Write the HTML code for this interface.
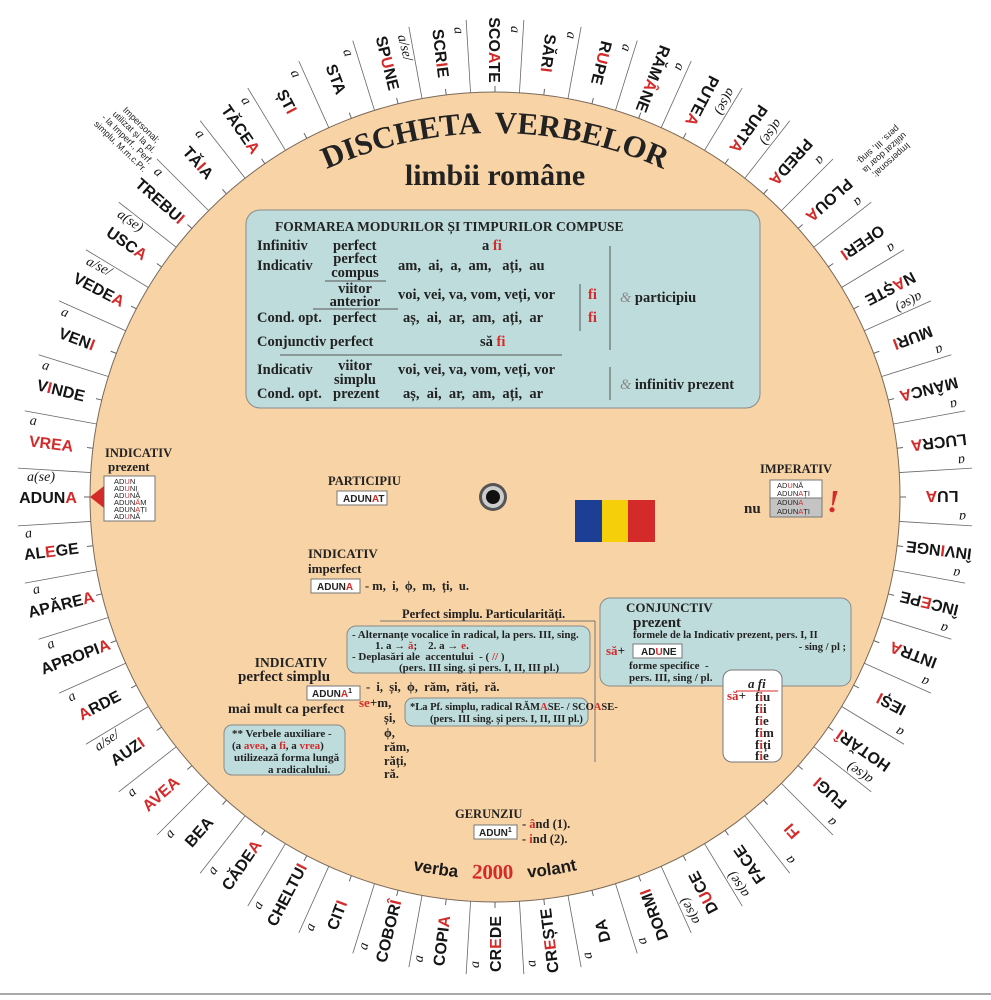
<!DOCTYPE html>
<html><head><meta charset="utf-8"><style>
html,body{margin:0;padding:0;background:#fff;width:991px;height:1000px;overflow:hidden}
svg{display:block}
svg text{white-space:pre}
.v{font-family:"Liberation Sans",sans-serif;font-weight:bold;font-size:16px;fill:#151515;text-anchor:middle}
.a{font-family:"Liberation Serif",serif;font-style:italic;font-size:14px;fill:#151515}
.r{fill:#d42a2a}
.s{font-family:"Liberation Serif",serif;font-weight:bold;fill:#222}
.ss{font-family:"Liberation Sans",sans-serif;fill:#222}
.n{font-family:"Liberation Sans",sans-serif;font-size:9px;fill:#222;text-anchor:middle}
</style></head><body>
<svg width="991" height="1000" viewBox="0 0 991 1000" xmlns="http://www.w3.org/2000/svg">
<line x1="0" y1="994" x2="991" y2="994" stroke="#aaa" stroke-width="2"/>
<circle cx="495" cy="497" r="405" fill="#f8d3a6" stroke="#7a6a5a" stroke-width="1"/>
<g stroke="#666" stroke-width="0.8">
<line x1="17" y1="497" x2="90" y2="497" transform="rotate(93.46 495 497)"/>
<line x1="17" y1="497" x2="90" y2="497" transform="rotate(100.38 495 497)"/>
<line x1="17" y1="497" x2="90" y2="497" transform="rotate(107.31 495 497)"/>
<line x1="17" y1="497" x2="90" y2="497" transform="rotate(114.23 495 497)"/>
<line x1="17" y1="497" x2="90" y2="497" transform="rotate(121.15 495 497)"/>
<line x1="17" y1="497" x2="90" y2="497" transform="rotate(128.08 495 497)"/>
<line x1="17" y1="497" x2="90" y2="497" transform="rotate(135 495 497)"/>
<line x1="17" y1="497" x2="90" y2="497" transform="rotate(141.92 495 497)"/>
<line x1="17" y1="497" x2="90" y2="497" transform="rotate(148.85 495 497)"/>
<line x1="17" y1="497" x2="90" y2="497" transform="rotate(155.77 495 497)"/>
<line x1="17" y1="497" x2="90" y2="497" transform="rotate(162.69 495 497)"/>
<line x1="17" y1="497" x2="90" y2="497" transform="rotate(169.62 495 497)"/>
<line x1="17" y1="497" x2="90" y2="497" transform="rotate(176.54 495 497)"/>
<line x1="17" y1="497" x2="90" y2="497" transform="rotate(183.46 495 497)"/>
<line x1="17" y1="497" x2="90" y2="497" transform="rotate(190.38 495 497)"/>
<line x1="17" y1="497" x2="90" y2="497" transform="rotate(197.31 495 497)"/>
<line x1="17" y1="497" x2="90" y2="497" transform="rotate(204.23 495 497)"/>
<line x1="17" y1="497" x2="90" y2="497" transform="rotate(211.15 495 497)"/>
<line x1="17" y1="497" x2="90" y2="497" transform="rotate(218.08 495 497)"/>
<line x1="17" y1="497" x2="90" y2="497" transform="rotate(225 495 497)"/>
<line x1="17" y1="497" x2="90" y2="497" transform="rotate(231.92 495 497)"/>
<line x1="17" y1="497" x2="90" y2="497" transform="rotate(238.85 495 497)"/>
<line x1="17" y1="497" x2="90" y2="497" transform="rotate(245.77 495 497)"/>
<line x1="17" y1="497" x2="90" y2="497" transform="rotate(252.69 495 497)"/>
<line x1="17" y1="497" x2="90" y2="497" transform="rotate(259.62 495 497)"/>
<line x1="17" y1="497" x2="90" y2="497" transform="rotate(266.54 495 497)"/>
<line x1="17" y1="497" x2="90" y2="497" transform="rotate(273.46 495 497)"/>
<line x1="17" y1="497" x2="90" y2="497" transform="rotate(280.38 495 497)"/>
<line x1="17" y1="497" x2="90" y2="497" transform="rotate(287.31 495 497)"/>
<line x1="17" y1="497" x2="90" y2="497" transform="rotate(294.23 495 497)"/>
<line x1="17" y1="497" x2="90" y2="497" transform="rotate(301.15 495 497)"/>
<line x1="17" y1="497" x2="90" y2="497" transform="rotate(308.08 495 497)"/>
<line x1="17" y1="497" x2="90" y2="497" transform="rotate(315 495 497)"/>
<line x1="17" y1="497" x2="90" y2="497" transform="rotate(321.92 495 497)"/>
<line x1="17" y1="497" x2="90" y2="497" transform="rotate(328.85 495 497)"/>
<line x1="17" y1="497" x2="90" y2="497" transform="rotate(335.77 495 497)"/>
<line x1="17" y1="497" x2="90" y2="497" transform="rotate(342.69 495 497)"/>
<line x1="17" y1="497" x2="90" y2="497" transform="rotate(349.62 495 497)"/>
<line x1="17" y1="497" x2="90" y2="497" transform="rotate(356.54 495 497)"/>
<line x1="17" y1="497" x2="90" y2="497" transform="rotate(3.46 495 497)"/>
<line x1="17" y1="497" x2="90" y2="497" transform="rotate(10.38 495 497)"/>
<line x1="17" y1="497" x2="90" y2="497" transform="rotate(17.31 495 497)"/>
<line x1="17" y1="497" x2="90" y2="497" transform="rotate(24.23 495 497)"/>
<line x1="17" y1="497" x2="90" y2="497" transform="rotate(31.15 495 497)"/>
<line x1="17" y1="497" x2="90" y2="497" transform="rotate(38.08 495 497)"/>
<line x1="17" y1="497" x2="90" y2="497" transform="rotate(45 495 497)"/>
<line x1="17" y1="497" x2="90" y2="497" transform="rotate(51.92 495 497)"/>
<line x1="17" y1="497" x2="90" y2="497" transform="rotate(58.85 495 497)"/>
<line x1="17" y1="497" x2="90" y2="497" transform="rotate(65.77 495 497)"/>
<line x1="17" y1="497" x2="90" y2="497" transform="rotate(72.69 495 497)"/>
<line x1="17" y1="497" x2="90" y2="497" transform="rotate(79.62 495 497)"/>
<line x1="17" y1="497" x2="90" y2="497" transform="rotate(86.54 495 497)"/>
</g>
<g transform="rotate(90 495 497)"><line x1="84" y1="497" x2="90" y2="497" stroke="#666"/><text class="a" x="24" y="481">a</text><text class="v" x="48" y="503">SCO<tspan class="r">A</tspan>TE</text></g>
<g transform="rotate(96.92 495 497)"><line x1="84" y1="497" x2="90" y2="497" stroke="#666"/><text class="a" x="24" y="481">a</text><text class="v" x="48" y="503">SĂR<tspan class="r">I</tspan></text></g>
<g transform="rotate(103.85 495 497)"><line x1="84" y1="497" x2="90" y2="497" stroke="#666"/><text class="a" x="24" y="481">a</text><text class="v" x="48" y="503">R<tspan class="r">U</tspan>PE</text></g>
<g transform="rotate(110.77 495 497)"><line x1="84" y1="497" x2="90" y2="497" stroke="#666"/><text class="a" x="24" y="481">a</text><text class="v" x="48" y="503">RĂM<tspan class="r">Â</tspan>NE</text></g>
<g transform="rotate(117.69 495 497)"><line x1="84" y1="497" x2="90" y2="497" stroke="#666"/><text class="a" x="24" y="481">a(se)</text><text class="v" x="48" y="503">PUTE<tspan class="r">A</tspan></text></g>
<g transform="rotate(124.62 495 497)"><line x1="84" y1="497" x2="90" y2="497" stroke="#666"/><text class="a" x="24" y="481">a(se)</text><text class="v" x="48" y="503">PURT<tspan class="r">A</tspan></text></g>
<g transform="rotate(131.54 495 497)"><line x1="84" y1="497" x2="90" y2="497" stroke="#666"/><text class="a" x="24" y="481">a</text><text class="v" x="48" y="503">PRED<tspan class="r">A</tspan></text></g>
<g transform="rotate(138.46 495 497)"><line x1="84" y1="497" x2="90" y2="497" stroke="#666"/><text class="a" x="24" y="481">a</text><text class="v" x="48" y="503">PLOU<tspan class="r">A</tspan></text></g>
<g transform="rotate(145.38 495 497)"><line x1="84" y1="497" x2="90" y2="497" stroke="#666"/><text class="a" x="24" y="481">a</text><text class="v" x="48" y="503">OFER<tspan class="r">I</tspan></text></g>
<g transform="rotate(152.31 495 497)"><line x1="84" y1="497" x2="90" y2="497" stroke="#666"/><text class="a" x="24" y="481">a(se)</text><text class="v" x="48" y="503">N<tspan class="r">A</tspan>ȘTE</text></g>
<g transform="rotate(159.23 495 497)"><line x1="84" y1="497" x2="90" y2="497" stroke="#666"/><text class="a" x="24" y="481">a</text><text class="v" x="48" y="503">MUR<tspan class="r">I</tspan></text></g>
<g transform="rotate(166.15 495 497)"><line x1="84" y1="497" x2="90" y2="497" stroke="#666"/><text class="a" x="24" y="481">a</text><text class="v" x="48" y="503">MÂNC<tspan class="r">A</tspan></text></g>
<g transform="rotate(173.08 495 497)"><line x1="84" y1="497" x2="90" y2="497" stroke="#666"/><text class="a" x="24" y="481">a</text><text class="v" x="48" y="503">LUCR<tspan class="r">A</tspan></text></g>
<g transform="rotate(180 495 497)"><line x1="84" y1="497" x2="90" y2="497" stroke="#666"/><text class="a" x="24" y="481">a</text><text class="v" x="48" y="503">LU<tspan class="r">A</tspan></text></g>
<g transform="rotate(186.92 495 497)"><line x1="84" y1="497" x2="90" y2="497" stroke="#666"/><text class="a" x="24" y="481">a</text><text class="v" x="48" y="503">ÎNV<tspan class="r">I</tspan>NGE</text></g>
<g transform="rotate(193.85 495 497)"><line x1="84" y1="497" x2="90" y2="497" stroke="#666"/><text class="a" x="24" y="481">a</text><text class="v" x="48" y="503">ÎNC<tspan class="r">E</tspan>PE</text></g>
<g transform="rotate(200.77 495 497)"><line x1="84" y1="497" x2="90" y2="497" stroke="#666"/><text class="a" x="24" y="481">a</text><text class="v" x="48" y="503">INTR<tspan class="r">A</tspan></text></g>
<g transform="rotate(207.69 495 497)"><line x1="84" y1="497" x2="90" y2="497" stroke="#666"/><text class="a" x="24" y="481">a</text><text class="v" x="48" y="503">IEȘ<tspan class="r">I</tspan></text></g>
<g transform="rotate(214.62 495 497)"><line x1="84" y1="497" x2="90" y2="497" stroke="#666"/><text class="a" x="24" y="481">a(se)</text><text class="v" x="48" y="503">HOTĂR<tspan class="r">Î</tspan></text></g>
<g transform="rotate(221.54 495 497)"><line x1="84" y1="497" x2="90" y2="497" stroke="#666"/><text class="a" x="24" y="481">a</text><text class="v" x="48" y="503">FUG<tspan class="r">I</tspan></text></g>
<g transform="rotate(228.46 495 497)"><line x1="84" y1="497" x2="90" y2="497" stroke="#666"/><text class="a" x="24" y="481">a</text><text class="v" x="48" y="503"><tspan class="r">FI</tspan></text></g>
<g transform="rotate(235.38 495 497)"><line x1="84" y1="497" x2="90" y2="497" stroke="#666"/><text class="a" x="24" y="481">a(se)</text><text class="v" x="48" y="503">FACE</text></g>
<g transform="rotate(242.31 495 497)"><line x1="84" y1="497" x2="90" y2="497" stroke="#666"/><text class="a" x="24" y="481">a(se)</text><text class="v" x="48" y="503">D<tspan class="r">U</tspan>CE</text></g>
<g transform="rotate(249.23 495 497)"><line x1="84" y1="497" x2="90" y2="497" stroke="#666"/><text class="a" x="24" y="481">a</text><text class="v" x="48" y="503">DORM<tspan class="r">I</tspan></text></g>
<g transform="rotate(256.15 495 497)"><line x1="84" y1="497" x2="90" y2="497" stroke="#666"/><text class="a" x="24" y="481">a</text><text class="v" x="48" y="503">DA</text></g>
<g transform="rotate(263.08 495 497)"><line x1="84" y1="497" x2="90" y2="497" stroke="#666"/><text class="a" x="24" y="481">a</text><text class="v" x="48" y="503">CR<tspan class="r">E</tspan>ȘTE</text></g>
<g transform="rotate(270 495 497)"><line x1="84" y1="497" x2="90" y2="497" stroke="#666"/><text class="a" x="24" y="481">a</text><text class="v" x="48" y="503">CR<tspan class="r">E</tspan>DE</text></g>
<g transform="rotate(276.92 495 497)"><line x1="84" y1="497" x2="90" y2="497" stroke="#666"/><text class="a" x="24" y="481">a</text><text class="v" x="48" y="503">COPI<tspan class="r">A</tspan></text></g>
<g transform="rotate(283.85 495 497)"><line x1="84" y1="497" x2="90" y2="497" stroke="#666"/><text class="a" x="24" y="481">a</text><text class="v" x="48" y="503">COBOR<tspan class="r">Î</tspan></text></g>
<g transform="rotate(290.77 495 497)"><line x1="84" y1="497" x2="90" y2="497" stroke="#666"/><text class="a" x="24" y="481">a</text><text class="v" x="48" y="503">CIT<tspan class="r">I</tspan></text></g>
<g transform="rotate(297.69 495 497)"><line x1="84" y1="497" x2="90" y2="497" stroke="#666"/><text class="a" x="20" y="481">a</text><text class="v" x="46" y="503">CHELTU<tspan class="r">I</tspan></text></g>
<g transform="rotate(304.62 495 497)"><line x1="84" y1="497" x2="90" y2="497" stroke="#666"/><text class="a" x="24" y="481">a</text><text class="v" x="48" y="503">CĂDE<tspan class="r">A</tspan></text></g>
<g transform="rotate(311.54 495 497)"><line x1="84" y1="497" x2="90" y2="497" stroke="#666"/><text class="a" x="24" y="481">a</text><text class="v" x="48" y="503">BEA</text></g>
<g transform="rotate(318.46 495 497)"><line x1="84" y1="497" x2="90" y2="497" stroke="#666"/><text class="a" x="24" y="481">a</text><text class="v" x="48" y="503"><tspan class="r">AVEA</tspan></text></g>
<g transform="rotate(325.38 495 497)"><line x1="84" y1="497" x2="90" y2="497" stroke="#666"/><text class="a" x="24" y="481">a/se/</text><text class="v" x="48" y="503">AUZ<tspan class="r">I</tspan></text></g>
<g transform="rotate(332.31 495 497)"><line x1="84" y1="497" x2="90" y2="497" stroke="#666"/><text class="a" x="24" y="481">a</text><text class="v" x="48" y="503"><tspan class="r">A</tspan>RDE</text></g>
<g transform="rotate(339.23 495 497)"><line x1="84" y1="497" x2="90" y2="497" stroke="#666"/><text class="a" x="24" y="481">a</text><text class="v" x="46" y="503">APROPI<tspan class="r">A</tspan></text></g>
<g transform="rotate(346.15 495 497)"><line x1="84" y1="497" x2="90" y2="497" stroke="#666"/><text class="a" x="24" y="481">a</text><text class="v" x="48" y="503">APĂRE<tspan class="r">A</tspan></text></g>
<g transform="rotate(353.08 495 497)"><line x1="84" y1="497" x2="90" y2="497" stroke="#666"/><text class="a" x="24" y="481">a</text><text class="v" x="48" y="503">AL<tspan class="r">E</tspan>GE</text></g>
<g><line x1="84" y1="497" x2="90" y2="497" stroke="#666"/><text class="a" x="27" y="481">a(se)</text><text class="v" x="48" y="503">ADUN<tspan class="r">A</tspan></text></g>
<g transform="rotate(6.92 495 497)"><line x1="84" y1="497" x2="90" y2="497" stroke="#666"/><text class="a" x="24" y="481">a</text><text class="v" x="48" y="503"><tspan class="r">VREA</tspan></text></g>
<g transform="rotate(13.85 495 497)"><line x1="84" y1="497" x2="90" y2="497" stroke="#666"/><text class="a" x="24" y="481">a</text><text class="v" x="48" y="503">V<tspan class="r">I</tspan>NDE</text></g>
<g transform="rotate(20.77 495 497)"><line x1="84" y1="497" x2="90" y2="497" stroke="#666"/><text class="a" x="24" y="481">a</text><text class="v" x="48" y="503">VEN<tspan class="r">I</tspan></text></g>
<g transform="rotate(27.69 495 497)"><line x1="84" y1="497" x2="90" y2="497" stroke="#666"/><text class="a" x="24" y="481">a/se/</text><text class="v" x="48" y="503">VEDE<tspan class="r">A</tspan></text></g>
<g transform="rotate(34.62 495 497)"><line x1="84" y1="497" x2="90" y2="497" stroke="#666"/><text class="a" x="24" y="481">a(se)</text><text class="v" x="48" y="503">USC<tspan class="r">A</tspan></text></g>
<g transform="rotate(41.54 495 497)"><line x1="84" y1="497" x2="90" y2="497" stroke="#666"/><text class="a" x="24" y="481">a</text><text class="v" x="48" y="503">TREBU<tspan class="r">I</tspan></text></g>
<g transform="rotate(48.46 495 497)"><line x1="84" y1="497" x2="90" y2="497" stroke="#666"/><text class="a" x="24" y="481">a</text><text class="v" x="48" y="503">TĂ<tspan class="r">I</tspan>A</text></g>
<g transform="rotate(55.38 495 497)"><line x1="84" y1="497" x2="90" y2="497" stroke="#666"/><text class="a" x="24" y="481">a</text><text class="v" x="48" y="503">TĂCE<tspan class="r">A</tspan></text></g>
<g transform="rotate(62.31 495 497)"><line x1="84" y1="497" x2="90" y2="497" stroke="#666"/><text class="a" x="24" y="481">a</text><text class="v" x="48" y="503">ȘT<tspan class="r">I</tspan></text></g>
<g transform="rotate(69.23 495 497)"><line x1="84" y1="497" x2="90" y2="497" stroke="#666"/><text class="a" x="24" y="481">a</text><text class="v" x="48" y="503">STA</text></g>
<g transform="rotate(76.15 495 497)"><line x1="84" y1="497" x2="90" y2="497" stroke="#666"/><text class="a" x="24" y="481">a/se/</text><text class="v" x="48" y="503">SP<tspan class="r">U</tspan>NE</text></g>
<g transform="rotate(83.08 495 497)"><line x1="84" y1="497" x2="90" y2="497" stroke="#666"/><text class="a" x="24" y="481">a</text><text class="v" x="48" y="503">SCR<tspan class="r">I</tspan>E</text></g>
<g transform="rotate(44 495 497)"><text class="n" x="-18" y="478">Impersonal;</text><text class="n" x="-18" y="488">utilizat și la pl.</text><text class="n" x="-18" y="498">- la Imperf., Perf.</text><text class="n" x="-18" y="508">simplu, M.m.c.Pr.</text></g>
<g transform="rotate(138 495 497)"><text class="n" x="-25" y="485">Impersonal;</text><text class="n" x="-25" y="495">utilizat doar la</text><text class="n" x="-25" y="505">pers. III, sing.</text></g>
<defs>
<path id="tp" d="M 85 543 A 410 410 0 0 1 905 543"/>
<path id="bp" d="M 113 497 A 382 382 0 0 0 877 497"/>
</defs>
<text class="s" font-size="31" fill="#1a1a1a"><textPath href="#tp" startOffset="50%" text-anchor="middle">DISCHETA  VERBELOR</textPath></text>
<text class="s" x="495" y="185" font-size="30" text-anchor="middle" fill="#1a1a1a">limbii române</text>
<text font-family="Liberation Sans,sans-serif" font-weight="900" font-size="17" fill="#1a1a1a"><textPath href="#bp" startOffset="50%" text-anchor="middle">verba   <tspan class="r" font-family="Liberation Serif,serif" font-size="21">2000</tspan>   volant</textPath></text>
<rect x="246" y="210" width="514" height="198" rx="14" fill="#bfdcdc" stroke="#8a8a8a"/>
<g class="s" font-size="14.5">
<text x="275" y="231" font-size="13.5">FORMAREA MODURILOR ȘI TIMPURILOR COMPUSE</text>
<text x="257" y="250">Infinitiv</text><text x="333" y="250">perfect</text><text x="482" y="250">a <tspan class="r">fi</tspan></text>
<text x="257" y="270">Indicativ</text><text x="355" y="263" text-anchor="middle">perfect</text><text x="355" y="277" text-anchor="middle">compus</text>
<text x="398" y="270">am,  ai,  a,  am,   ați,  au</text>
<text x="355" y="293" text-anchor="middle">viitor</text><text x="355" y="306" text-anchor="middle">anterior</text>
<text x="398" y="299">voi, vei, va, vom, veți, vor</text><text x="588" y="299" class="r">fi</text>
<text x="257" y="322">Cond. opt.</text><text x="333" y="322">perfect</text><text x="403" y="322">aș,  ai,  ar,  am,  ați,  ar</text><text x="588" y="322" class="r">fi</text>
<text x="257" y="346">Conjunctiv perfect</text><text x="480" y="346">să <tspan class="r">fi</tspan></text>
<text x="257" y="374">Indicativ</text><text x="355" y="370" text-anchor="middle">viitor</text><text x="355" y="384" text-anchor="middle">simplu</text>
<text x="398" y="374">voi, vei, va, vom, veți, vor</text>
<text x="257" y="398">Cond. opt.</text><text x="333" y="398">prezent</text><text x="403" y="398">aș,  ai,  ar,  am,  ați,  ar</text>
<text x="620" y="302"><tspan font-style="italic" font-weight="normal" fill="#888">&amp;</tspan> participiu</text>
<text x="620" y="389"><tspan font-style="italic" font-weight="normal" fill="#888">&amp;</tspan> infinitiv prezent</text>
</g>
<g stroke="#555" stroke-width="1">
<line x1="325" y1="281" x2="386" y2="281"/><line x1="313" y1="309" x2="398" y2="309"/>
<line x1="580" y1="284" x2="580" y2="331"/><line x1="280" y1="355" x2="562" y2="355"/>
<line x1="610" y1="246" x2="610" y2="350"/><line x1="610" y1="367" x2="610" y2="400"/>
</g>
<text class="s" x="105" y="457" font-size="12.5">INDICATIV</text>
<text class="s" x="108" y="471" font-size="13">prezent</text>
<rect x="104" y="476" width="51" height="45" fill="#fff" stroke="#777"/>
<g class="ss" font-size="7.5"><text x="114" y="484">AD<tspan class="r">U</tspan>N</text><text x="114" y="491">AD<tspan class="r">U</tspan>NI</text><text x="114" y="498">AD<tspan class="r">U</tspan>NĂ</text><text x="114" y="505">ADUN<tspan class="r">Ă</tspan>M</text><text x="114" y="512">ADUN<tspan class="r">A</tspan>ȚI</text><text x="114" y="519">AD<tspan class="r">U</tspan>NĂ</text></g>
<polygon points="90,497 104,486 104,508" fill="#d42a2a"/>
<text class="s" x="328" y="485" font-size="12.5">PARTICIPIU</text>
<rect x="337" y="491" width="50" height="14" fill="#fff" stroke="#777"/>
<text class="ss" x="343" y="502" font-size="10" font-weight="bold">ADUN<tspan class="r">A</tspan>T</text>
<circle cx="493" cy="497" r="14" fill="#555"/><circle cx="493" cy="497" r="11" fill="#ccc"/><circle cx="493" cy="497" r="7" fill="#111"/>
<rect x="575" y="500" width="27" height="42" fill="#1d3e95"/><rect x="602" y="500" width="26" height="42" fill="#f5cf0a"/><rect x="628" y="500" width="27" height="42" fill="#d42a2a"/>
<text class="s" x="760" y="473" font-size="12.5">IMPERATIV</text>
<rect x="770" y="480" width="52" height="37" fill="#fff" stroke="#777"/><rect x="770" y="498" width="52" height="19" fill="#c4c4c4" stroke="#777"/>
<g class="ss" font-size="7.5"><text x="777" y="488">AD<tspan class="r">U</tspan>NĂ</text><text x="777" y="496">ADUN<tspan class="r">A</tspan>ȚI</text><text x="777" y="505">ADUN<tspan class="r">A</tspan></text><text x="777" y="514">ADUN<tspan class="r">A</tspan>ȚI</text></g>
<text class="s r" x="744" y="513" font-size="15" fill="#d42a2a">nu</text>
<text x="827" y="512" font-family="Liberation Serif,serif" font-style="italic" font-weight="bold" font-size="32" fill="#d42a2a">!</text>
<text class="s" x="308" y="558" font-size="13">INDICATIV</text>
<text class="s" x="308" y="573" font-size="13">imperfect</text>
<rect x="311" y="579" width="49" height="14" fill="#fff" stroke="#777"/>
<text class="ss" x="317" y="590" font-size="10" font-weight="bold">ADUN<tspan class="r">A</tspan></text>
<text class="s" x="365" y="590" font-size="12.5">- m,  i,  ϕ,  m,  ți,  u.</text>
<text class="s" x="402" y="618" font-size="12.5">Perfect simplu. Particularități.</text>
<g stroke="#777"><line x1="380" y1="621" x2="595" y2="621"/><line x1="595" y1="621" x2="595" y2="762"/></g>
<rect x="347" y="626" width="243" height="47" rx="9" fill="#bfdcdc" stroke="#888"/>
<g class="s" font-size="11">
<text x="352" y="638">- Alternanțe vocalice în radical, la pers. III, sing.</text>
<text x="375" y="649">1. a → <tspan class="r">ă</tspan>;    2. a → <tspan class="r">e</tspan>.</text>
<text x="352" y="660">- Deplasări ale  accentului  - ( <tspan class="r">//</tspan> )</text>
<text x="399" y="671">(pers. III sing. și pers. I, II, III pl.)</text>
</g>
<text class="s" x="291" y="667" font-size="13.5" text-anchor="middle">INDICATIV</text>
<text class="s" x="238" y="681" font-size="15">perfect simplu</text>
<rect x="307" y="686" width="53" height="14" fill="#fff" stroke="#777"/>
<text class="ss" x="312" y="697" font-size="10" font-weight="bold">ADUN<tspan class="r">A</tspan><tspan font-size="7" dy="-4">1</tspan></text>
<text class="s" x="366" y="691" font-size="12.5">-  i,  și,  ϕ,  răm,  răți,  ră.</text>
<text class="s" x="359" y="707" font-size="13"><tspan class="r">se</tspan>+m,</text>
<g class="s" font-size="12.5"><text x="384" y="722">și,</text><text x="384" y="737">ϕ,</text><text x="384" y="751">răm,</text><text x="384" y="765">răți,</text><text x="384" y="778">ră.</text></g>
<text class="s" x="228" y="713" font-size="14">mai mult ca perfect</text>
<rect x="405" y="698" width="183" height="28" rx="8" fill="#bfdcdc" stroke="#888"/>
<g class="s" font-size="10.5"><text x="410" y="710">*La Pf. simplu, radical RĂM<tspan class="r">A</tspan>SE- / SCO<tspan class="r">A</tspan>SE-</text><text x="430" y="722">(pers. III sing. și pers. I, II, III pl.)</text></g>
<rect x="224" y="725" width="121" height="50" rx="8" fill="#bfdcdc" stroke="#888"/>
<g class="s" font-size="11"><text x="232" y="737">** Verbele auxiliare -</text><text x="232" y="749">(a <tspan class="r">avea</tspan>, a <tspan class="r">fi</tspan>, a <tspan class="r">vrea</tspan>)</text><text x="234" y="761">utilizează forma lungă</text><text x="268" y="773">a radicalului.</text></g>
<rect x="600" y="598" width="251" height="88" rx="10" fill="#bfdcdc" stroke="#888"/>
<text class="s" x="626" y="612" font-size="13">CONJUNCTIV</text>
<text class="s" x="633" y="627" font-size="15">prezent</text>
<text class="s" x="633" y="638" font-size="10.5">formele de la Indicativ prezent, pers. I, II</text>
<text class="s" x="846" y="650" font-size="10.5" text-anchor="end">- sing / pl ;</text>
<text class="s" x="606" y="655" font-size="13"><tspan class="r">să</tspan>+</text>
<rect x="633" y="644" width="49" height="14" fill="#fff" stroke="#777"/>
<text class="ss" x="641" y="655" font-size="10" font-weight="bold">AD<tspan class="r">U</tspan>NE</text>
<text class="s" x="629" y="669" font-size="11">forme specifice  -</text>
<text class="s" x="629" y="681" font-size="11">pers. III, sing / pl.</text>
<rect x="723" y="670" width="59" height="92" rx="9" fill="#fff" stroke="#777"/>
<text class="s r" x="748" y="688" font-size="13" font-style="italic" fill="#d42a2a">a fi</text>
<line x1="736" y1="691" x2="778" y2="691" stroke="#d42a2a"/>
<text class="s" x="727" y="700" font-size="13"><tspan class="r">să</tspan>+</text>
<g class="s" font-size="13"><text x="755" y="701">f<tspan class="r">i</tspan>u</text><text x="755" y="713">f<tspan class="r">i</tspan>i</text><text x="755" y="725">f<tspan class="r">i</tspan>e</text><text x="755" y="737">f<tspan class="r">i</tspan>m</text><text x="755" y="749">f<tspan class="r">i</tspan>ți</text><text x="755" y="760">f<tspan class="r">i</tspan>e</text></g>
<text class="s" x="455" y="818" font-size="12.5">GERUNZIU</text>
<rect x="474" y="825" width="43" height="14" fill="#fff" stroke="#777"/>
<text class="ss" x="479" y="836" font-size="10" font-weight="bold">ADUN<tspan font-size="7" dy="-4">1</tspan></text>
<text class="s" x="522" y="828" font-size="12.5">- <tspan class="r">â</tspan>nd (1).</text>
<text class="s" x="522" y="843" font-size="12.5">- <tspan class="r">i</tspan>nd (2).</text>
</svg>
</body></html>
